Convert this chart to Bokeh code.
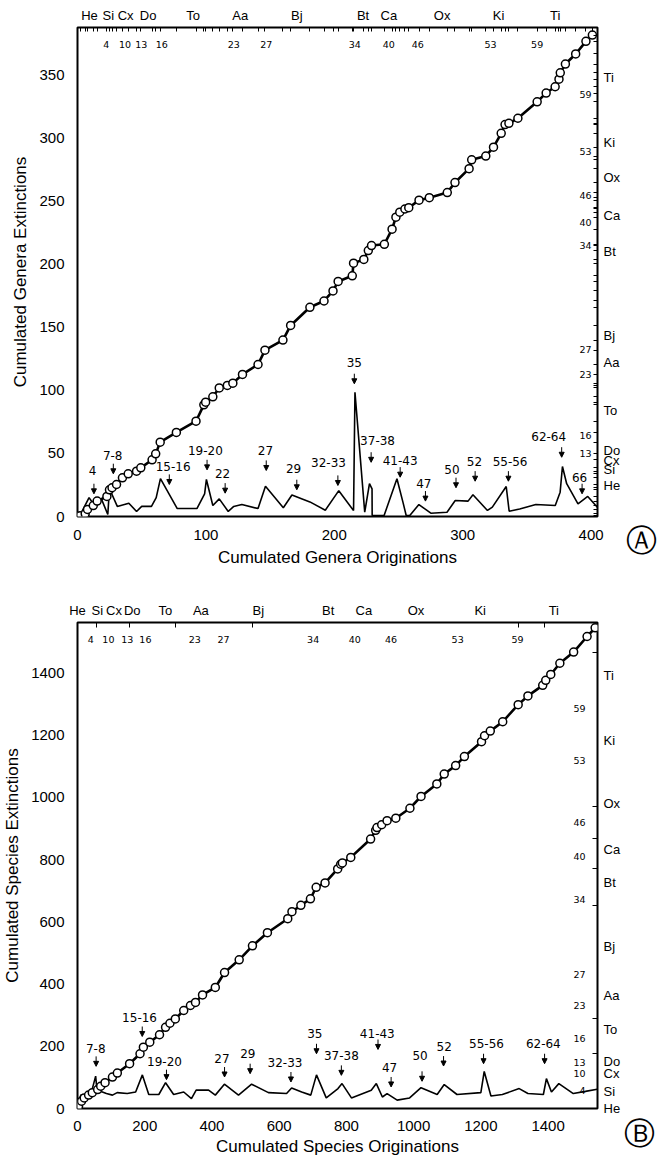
from bokeh.plotting import figure
from bokeh.models import (FixedTicker, LinearAxis, Range1d, Arrow, NormalHead,
                          ColumnDataSource, Label, AllLabels)
from bokeh.layouts import column
from bokeh.embed import file_html
from bokeh.resources import INLINE
from bokeh.core.properties import value

# ---------------- Panel A : genera ----------------
a_cum_orig = [2, 6, 7.8, 12.3, 15.3, 22.9, 24.9, 26.9, 30.4, 35, 39.5, 46, 49.3, 58.1, 60.9,
              64.4, 77, 92.3, 98.4, 99.8, 105.4, 110.4, 116.7, 121, 128.5, 140.6, 146, 160, 166, 181,
              192, 199, 203, 214, 215, 223, 226.5, 229, 239, 245, 248, 251, 255, 258, 266,
              274, 288, 294, 305, 307, 318, 324, 330, 333, 336, 343, 358, 365, 372, 375,
              376, 380, 388, 396, 401]
a_cum_ext = [0.5, 2.1, 5.6, 8.7, 12.2, 15.9, 21.2, 22.8, 25.4, 30.7, 33.9, 36, 38.6, 45, 49.7,
             59, 66.7, 75.6, 88.6, 90.7, 95, 102, 104, 105.8, 112.7, 120.6, 132, 140, 151.6, 166,
             171, 179, 186.5, 191, 201, 204, 211, 215, 216, 228, 237.5, 241.5, 244, 245, 251,
             253, 257, 265, 276, 283, 286, 293, 304, 311, 312, 316, 329, 336, 341, 347,
             352, 359, 367, 377, 382]
a_low_x = [2, 9, 12, 18.6, 23.6, 24.9, 31, 40, 46, 50, 57.6, 61.3, 64.6, 77.7, 93, 99, 100.4,
           105.4, 110.4, 117.4, 121.7, 128, 140.6, 146.4, 160.3, 167, 181, 193, 203.5, 215,
           216.1, 223.7, 227.4, 229.4, 229.5, 238.8, 248.8, 253.8, 256, 258.8, 265.9, 275.2,
           287.8, 294.2, 304.2, 308, 319.3, 323.1, 333.9, 336.2, 344.4, 357, 372.1, 375.9,
           377.7, 381, 389.8, 397.4, 404.9]
a_low_y = [1, 15, 10.5, 14, 1.6, 22, 8, 10.5, 4, 8, 8, 15, 30, 6.3, 6.3, 18, 29.4, 8.7, 14, 4,
           8, 9.5, 6.3, 24, 7, 17, 11.6, 5, 20.5, 4.7, 98.6, 3.4, 26, 22, 0.8, 0.8, 30, 10, 0.8,
           0.8, 9.5, 2.6, 3.4, 12.7, 12.2, 17.2, 4.8, 7.4, 23.8, 4.2, 6, 9.5, 8.7, 19.3, 39.7,
           26, 10, 15.9, 7.4]
a_arrow_x = [12.8, 27.9, 71.5, 100.9, 115, 147, 170.8, 202.8, 215.6, 228.7, 251.3, 271, 294.8,
             309.7, 335.6, 377.1, 393]
a_arrow_tip = [18, 33.9, 25.4, 37, 18.5, 36.5, 21.2, 24.6, 105.3, 43, 31.2, 12.2, 22.8, 28, 28,
               47, 18]
a_label_text = ["4", "7-8", "15-16", "19-20", "22", "27", "29", "32-33", "35", "37-38", "41-43",
                "47", "50", "52", "55-56", "62-64", "66"]
a_label_x = [11.8, 27.4, 74.5, 99.6, 113, 146.4, 168.3, 195.5, 215.6, 233.7, 251.3, 269.7, 291.6,
             309.2, 336.9, 367, 391]
a_label_y = [36.5, 48.4, 40, 52.4, 33.9, 52.4, 37.8, 43.1, 122.5, 60.3, 44.4, 26.5, 37, 43.9,
             43.9, 63.5, 31.2]
a_top_names = ["He", "Si", "Cx", "Do", "To", "Aa", "Bj", "Bt", "Ca", "Ox", "Ki", "Ti"]
a_top_name_x = [9.3, 24, 37.5, 55, 90, 126.8, 170.8, 222.4, 242.5, 284, 328, 372]
a_zone_nums = ["4", "10", "13", "16", "23", "27", "34", "40", "46", "53", "59"]
a_top_num_x = [22.4, 37, 49.6, 65.7, 121.7, 147, 216, 242.5, 265, 321.7, 358]
a_right_nums = ["59", "53", "46", "40", "34", "27", "23", "16", "13"]
a_right_num_y = [335, 290, 254.8, 233, 215, 132.3, 113, 64.3, 49.7]
a_right_names = ["Ti", "Ki", "Ox", "Ca", "Bt", "Bj", "Aa", "To", "Do", "Cx", "Si", "He"]
a_right_name_y = [348.7, 297, 268.8, 239, 210, 143.7, 122.5, 84, 52.4, 44.4, 37.3, 24.6]
a_xticks = [0, 100, 200, 300, 400]
a_yticks = [0, 50, 100, 150, 200, 250, 300, 350]

# ---------------- Panel B : species ----------------
b_cum_orig = [3, 12, 20, 33, 44, 60, 69, 82, 104, 118.5, 155, 186, 196, 215, 244, 262, 275, 291,
              316, 336, 351, 372, 410, 437.5, 481, 520.5, 565, 625.5, 638, 664.5, 693, 710,
              736.5, 774, 783, 788, 813, 872, 887, 891, 905, 921, 947, 989, 1022, 1069, 1091,
              1125, 1151, 1202, 1211, 1228, 1265, 1311, 1340, 1384, 1393, 1408, 1435, 1476,
              1516, 1540]
b_cum_ext = [7.5, 23.5, 34, 43, 51, 61, 71.5, 83, 101, 114, 144, 176, 197, 213, 237, 261, 274,
             288, 315, 331, 341, 365, 389, 437, 478, 522.7, 565, 610, 632.5, 653, 674, 711, 725,
             770, 785, 789, 807, 866, 894, 903, 912, 925, 933, 965, 1003, 1043, 1075, 1102,
             1131, 1179, 1198, 1213, 1243, 1298, 1326, 1360, 1376, 1395, 1431, 1467, 1517, 1545]
b_low_x = [3, 10, 25, 37, 54, 58, 74, 86, 104, 118, 148, 173, 193, 212, 242, 262, 286, 316, 339,
           353, 390, 410, 437, 479, 518, 568, 622, 637, 667, 694, 711, 740, 775, 787, 815, 874,
           889, 907, 921, 951, 988, 1022, 1070, 1091, 1129, 1200, 1210, 1230, 1264, 1314, 1340,
           1386, 1395, 1410, 1432, 1475, 1511, 1546]
b_low_y = [21, 43, 43, 34, 104, 59, 53, 48, 43, 51, 48, 53, 108, 45, 45, 83, 45, 53, 32, 59, 59,
           43, 78, 43, 78, 51, 48, 66, 53, 43, 108, 34, 64, 80, 34, 59, 80, 37, 48, 27, 34, 67,
           45, 77, 45, 51, 119, 40, 45, 64, 48, 45, 96, 53, 80, 48, 55, 62]
b_arrow_x = [55.4, 192.6, 264.7, 437.5, 513.6, 635, 711, 785, 894, 933, 1025, 1089, 1208, 1389.6]
b_arrow_tip = [135.5, 231.5, 92.8, 101.3, 112, 85.3, 176, 106.6, 189.8, 69.3, 87.5, 136.5, 144, 144]
b_label_text = ["7-8", "15-16", "19-20", "27", "29", "32-33", "35", "37-38", "41-43", "47", "50",
                "52", "55-56", "62-64"]
b_label_x = [54.3, 184.6, 258.8, 429.6, 506.7, 617.3, 706, 785, 891.9, 928.4, 1019, 1091,
             1216.7, 1385.8]
b_label_y = [192, 293, 151.5, 162, 176, 147, 240, 170.7, 240, 133.3, 170.7, 200.5, 208, 210]
b_top_names = ["He", "Si", "Cx", "Do", "To", "Aa", "Bj", "Bt", "Ca", "Ox", "Ki", "Ti"]
b_top_name_x = [0, 59, 108.6, 163, 261.7, 367, 538, 745.7, 852, 1007, 1198, 1417]
b_top_tick_x = [56, 156, 292, 520, 1312, 1390]
b_zone_nums = ["4", "10", "13", "16", "23", "27", "34", "40", "46", "53", "59"]
b_top_num_x = [39.5, 91.9, 148, 202, 348.6, 434.6, 701, 824.6, 933, 1131, 1309]
b_right_nums = ["59", "53", "46", "40", "34", "27", "23", "16", "13", "10", "4"]
b_right_num_y = [1286, 1120, 918, 810, 672, 432, 330, 224, 147, 112, 58]
b_right_names = ["Ti", "Ki", "Ox", "Ca", "Bt", "Bj", "Aa", "To", "Do", "Cx", "Si", "He"]
b_right_name_y = [1392, 1184, 979, 832, 726, 522, 362, 253, 150, 112, 54, 0]
b_right_tick_y = [1465, 970, 867, 771, 652, 288, 176]
b_xticks = [0, 200, 400, 600, 800, 1000, 1200, 1400]
b_yticks = [0, 200, 400, 600, 800, 1000, 1200, 1400]

SANS = "Liberation Sans"
SMALL = "DejaVu Sans"


def panel(height, xr, yr, borders, cum_x, cum_y, low_x, low_y, arr_x, arr_tip, arr_len,
          lab_text, lab_x, lab_y, top_names, top_name_x, top_tick_x, top_nums, top_num_x,
          right_names, right_name_y, right_tick_y, right_nums, right_num_y, xticks, yticks,
          xlabel, ylabel, num_off, tick_len, letter, letter_x, letter_y, x_standoffs):
    bl, br, bt, bb = borders
    p = figure(width=657, height=height, x_range=Range1d(*xr), y_range=Range1d(*yr),
               output_backend="svg", toolbar_location=None,
               min_border_left=bl, min_border_right=br, min_border_top=bt, min_border_bottom=bb)
    p.grid.visible = False
    p.outline_line_color = "black"
    p.outline_line_width = 2
    p.background_fill_color = "white"
    p.border_fill_color = "white"

    for ax, ticks, lab in ((p.xaxis[0], xticks, xlabel), (p.yaxis[0], yticks, ylabel)):
        ax.ticker = FixedTicker(ticks=ticks)
        ax.axis_line_color = None
        ax.major_tick_in = 0
        ax.major_tick_out = 0
        ax.minor_tick_in = 0
        ax.minor_tick_out = 0
        ax.major_label_text_font = SANS
        ax.major_label_text_font_size = "15px"
        ax.major_label_text_color = "black"
        ax.axis_label = lab
        ax.axis_label_text_font = SANS
        ax.axis_label_text_font_size = "17px"
        ax.axis_label_text_font_style = "normal"
        ax.axis_label_text_color = "black"
    p.xaxis[0].major_label_standoff = x_standoffs[0]
    p.xaxis[0].axis_label_standoff = x_standoffs[1]
    p.yaxis[0].major_label_standoff = 13
    p.yaxis[0].axis_label_standoff = 6

    top = LinearAxis(ticker=FixedTicker(ticks=top_name_x, minor_ticks=top_tick_x),
                     major_label_overrides={v: n for v, n in zip(top_name_x, top_names)},
                     major_label_policy=AllLabels())
    right = LinearAxis(ticker=FixedTicker(ticks=right_name_y, minor_ticks=right_tick_y),
                       major_label_overrides={v: n for v, n in zip(right_name_y, right_names)},
                       major_label_policy=AllLabels())
    for ax in (top, right):
        ax.axis_line_color = None
        ax.major_tick_in = 0
        ax.major_tick_out = 0
        ax.minor_tick_in = tick_len
        ax.minor_tick_out = 0
        ax.minor_tick_line_color = "black"
        ax.minor_tick_line_width = 1
        ax.major_label_text_font = SANS
        ax.major_label_text_font_size = "13px"
        ax.major_label_text_color = "black"
        ax.major_label_standoff = 5
    right.major_label_standoff = 6
    p.add_layout(top, "above")
    p.add_layout(right, "right")

    # zone numbers inside the frame
    p.text(x=top_num_x, y=[yr[1]] * len(top_num_x), text=top_nums, y_offset=17,
           text_align="center", text_baseline="middle", text_font=value(SMALL),
           text_font_size="9.5px", text_color="black")
    p.text(x=[xr[1]] * len(right_num_y), y=right_num_y, text=right_nums, x_offset=-num_off,
           text_align="right", text_baseline="middle", text_font=value(SMALL),
           text_font_size="9.5px", text_color="black")

    # lower curve
    p.line(low_x, low_y, line_color="black", line_width=1.6)
    # cumulated curve
    p.line(cum_x, cum_y, line_color="black", line_width=2.6)
    p.scatter(cum_x, cum_y, size=8, fill_color="white", line_color="black", line_width=1.5)

    # arrows + labels
    src = ColumnDataSource(dict(x=arr_x, y0=[t + arr_len for t in arr_tip], y1=arr_tip))
    p.add_layout(Arrow(end=NormalHead(size=5, fill_color="black", line_color="black"),
                       x_start="x", y_start="y0", x_end="x", y_end="y1", source=src,
                       line_color="black", line_width=1))
    p.text(x=lab_x, y=lab_y, text=lab_text, text_align="center", text_baseline="middle",
           text_font=value(SMALL), text_font_size="12px", text_color="black")

    # panel letter (in the right side panel so that it is not clipped to the frame)
    p.add_layout(Label(x=letter_x, y=letter_y, text=letter, text_align="center",
                       text_baseline="middle", text_font=SMALL, text_font_size="31px",
                       text_color="black"), "right")
    return p


pa = panel(588, (0, 405), (0, 388), (68, 53, 27, 72),
           a_cum_orig, a_cum_ext, a_low_x, a_low_y, a_arrow_x, a_arrow_tip, 8,
           a_label_text, a_label_x, a_label_y, a_top_names, a_top_name_x, a_cum_orig,
           a_zone_nums, a_top_num_x, a_right_names, a_right_name_y, a_cum_ext,
           a_right_nums, a_right_num_y, a_xticks, a_yticks,
           "Cumulated Genera Originations", "Cumulated Genera Extinctions", 6, 4,
           "\u24B6", 439, -19, (13, 5))

pb = panel(572, (0, 1547), (0, 1562), (75, 60, 34, 52),
           b_cum_orig, b_cum_ext, b_low_x, b_low_y, b_arrow_x, b_arrow_tip, 32,
           b_label_text, b_label_x, b_label_y, b_top_names, b_top_name_x, b_top_tick_x,
           b_zone_nums, b_top_num_x, b_right_names, b_right_name_y, b_right_tick_y,
           b_right_nums, b_right_num_y, b_xticks, b_yticks,
           "Cumulated Species Originations", "Cumulated Species Extinctions", 12, 5,
           "\u24B7", 1671, -80, (12, 3))

layout = column(pa, pb, spacing=0)
open("out.html", "w").write(file_html(layout, INLINE))
